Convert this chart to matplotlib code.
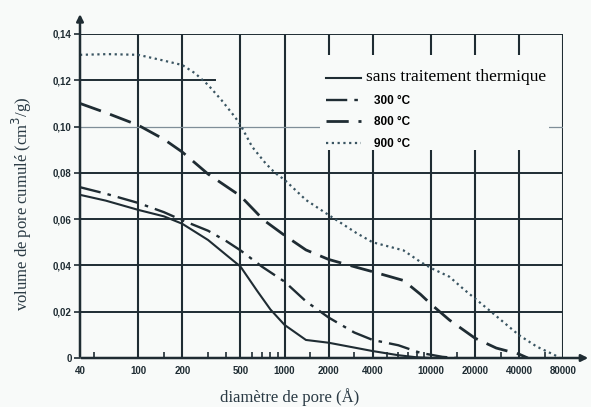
import matplotlib.pyplot as plt
from matplotlib.patches import Rectangle
from matplotlib.ticker import FixedLocator, NullFormatter

# pore diameter (Angstrom) and cumulative pore volume (cm3/g)
d_ref = [40, 60, 100, 150, 200, 300, 400, 500, 650, 800, 1000, 1400, 2000, 3000, 4000, 6000, 8000, 10000]
v_ref = [0.0705, 0.068, 0.064, 0.0612, 0.058, 0.051, 0.0445, 0.0395, 0.029, 0.021, 0.0143, 0.0078,
         0.0066, 0.0045, 0.003, 0.0012, 0.0003, 0.0]

d_300 = [40, 60, 100, 150, 200, 300, 400, 500, 700, 1000, 1400, 2000, 3000, 4000, 6000, 8500, 12000, 15000]
v_300 = [0.0738, 0.071, 0.067, 0.063, 0.0595, 0.055, 0.0505, 0.0465, 0.0395, 0.033, 0.0245, 0.0175,
         0.011, 0.0078, 0.0055, 0.0022, 0.0005, 0.0]

d_800 = [40, 60, 100, 150, 200, 300, 500, 720, 1000, 1400, 2000, 3100, 4000, 6500, 8500, 10000,
         13400, 20000, 28000, 40000, 46000]
v_800 = [0.110, 0.106, 0.1006, 0.0945, 0.089, 0.0795, 0.070, 0.0596, 0.053, 0.0467, 0.0426, 0.0392,
         0.0373, 0.0335, 0.0275, 0.0233, 0.0164, 0.0086, 0.0043, 0.0017, 0.0]

d_900 = [40, 62, 100, 145, 200, 245, 300, 370, 460, 500, 600, 740, 860, 1000, 1400, 2000, 3100, 4000,
         6500, 8500, 10000, 13400, 17000, 25000, 40000, 53000, 70000, 76000]
v_900 = [0.131, 0.1313, 0.131, 0.1287, 0.1266, 0.123, 0.118, 0.1115, 0.104, 0.1007, 0.0913, 0.0842,
         0.080, 0.077, 0.0683, 0.0618, 0.054, 0.050, 0.0465, 0.0415, 0.0389, 0.0351, 0.0294, 0.0207,
         0.0099, 0.0049, 0.0013, 0.0]

x_ticks = [40, 100, 200, 500, 1000, 2000, 4000, 10000, 20000, 40000, 80000]
x_minor = [50, 150, 300, 400, 600, 700, 800, 900, 1500, 3000, 5000, 6000, 7000, 8000, 9000, 15000, 30000, 60000]
y_ticks = [0, 0.02, 0.04, 0.06, 0.08, 0.10, 0.12, 0.14]
y_labels = ['0', '0,02', '0,04', '0,06', '0,08', '0,10', '0,12', '0,14']

ink = '#1f2c33'
paper = '#f8faf9'

fig = plt.figure(figsize=(5.91, 4.07), dpi=100, facecolor=paper)
ax = fig.add_axes([80 / 591, 49 / 407, 483 / 591, 324 / 407])
ax.set_facecolor(paper)
ax.set_xscale('log')
ax.set_xlim(40, 80000)
ax.set_ylim(0, 0.14)

# grid as in the printed chart
for x in x_ticks[1:]:
    ax.axvline(x, color=ink, lw=1.5, zorder=1)
for y in y_ticks[1:]:
    if y == 0.12:
        ax.axhline(y, xmax=0.28, color=ink, lw=1.4, zorder=1)
    elif y == 0.10:
        ax.axhline(y, color='#7f8e98', lw=0.9, zorder=1)
    else:
        ax.axhline(y, color=ink, lw=1.4, zorder=1)

# blank area of the print behind the key
ax.add_patch(Rectangle((0.497, 0.642), 0.475, 0.293, transform=ax.transAxes,
                       facecolor=paper, edgecolor='none', zorder=2))

ax.plot(d_ref, v_ref, color=ink, lw=1.5, label='sans traitement thermique', zorder=3)
ax.plot(d_300, v_300, color=ink, lw=1.7, ls=(0, (9, 3, 1.5, 3)), label='300 °C', zorder=3)
ax.plot(d_800, v_800, color=ink, lw=2.0, ls=(0, (8, 3.5)), label='800 °C', zorder=3)
ax.plot(d_900, v_900, color='#3a5562', lw=1.6, ls=(0, (1, 1.6)), label='900 °C', zorder=3)

for s in ['top', 'right', 'left', 'bottom']:
    ax.spines[s].set_visible(False)
ax.annotate('', xy=(0, 1.07), xytext=(0, -0.004), xycoords='axes fraction',
            arrowprops=dict(arrowstyle='-|>', lw=1.8, color=ink, mutation_scale=10))
ax.annotate('', xy=(1.058, 0), xytext=(-0.003, 0), xycoords='axes fraction',
            arrowprops=dict(arrowstyle='-|>', lw=1.8, color=ink, mutation_scale=10))

ax.xaxis.set_major_locator(FixedLocator(x_ticks))
ax.set_xticklabels([str(x) for x in x_ticks])
ax.xaxis.set_minor_locator(FixedLocator(x_minor))
ax.xaxis.set_minor_formatter(NullFormatter())
ax.tick_params(axis='x', which='major', length=0, pad=6, labelsize=7, colors=ink)
ax.tick_params(axis='x', which='minor', direction='in', length=4, width=1.2, color=ink)
ax.set_yticks(y_ticks)
ax.set_yticklabels(y_labels)
ax.tick_params(axis='y', direction='out', length=4, width=1.2, pad=2, labelsize=7, colors=ink)
for t in ax.get_xticklabels() + ax.get_yticklabels():
    t.set_fontweight('bold')
    t.set_family('Liberation Sans')

fig.text(22 / 591, 0.5, 'volume de pore cumulé (cm$^3$/g)', rotation=90, ha='center', va='center',
         family='Liberation Serif', fontsize=12, color='#2a3a44')
fig.text(290 / 591, 10 / 407, 'diamètre de pore (Å)', ha='center', va='center',
         family='Liberation Serif', fontsize=12, color='#2a3a44')

leg = ax.legend(loc='upper left', bbox_to_anchor=(0.49, 0.918), frameon=False,
                handlelength=3.2, handletextpad=0.4, labelspacing=0.85, borderpad=0.3, fontsize=8)
leg.set_zorder(5)
texts = leg.get_texts()
texts[0].set_family('Liberation Serif')
texts[0].set_fontsize(12.5)
for t in texts[1:]:
    t.set_family('Liberation Sans')
    t.set_fontweight('bold')
    t.set_fontsize(8.5)
    t.set_position((8, 0))

fig.savefig('out.png', dpi=100, facecolor=paper)
